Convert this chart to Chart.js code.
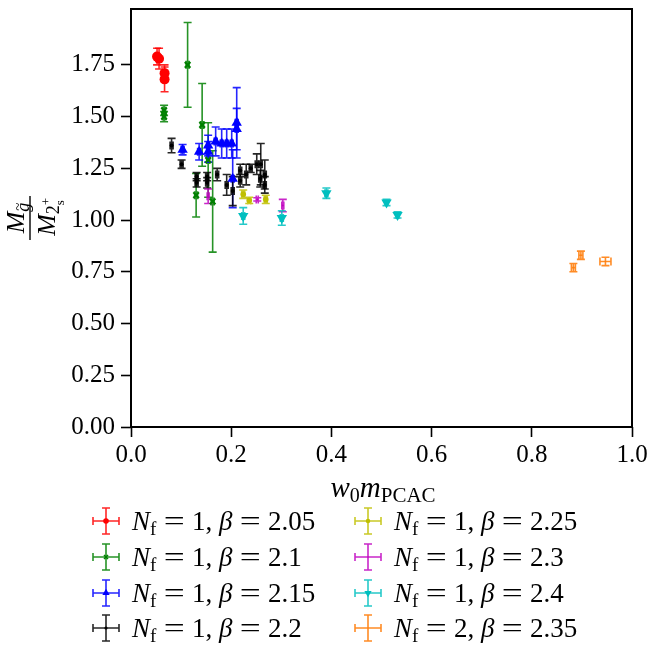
<!DOCTYPE html>
<html lang="en">
<head>
<meta charset="utf-8">
<title>Glueball mass ratio</title>
<script src="https://cdn.jsdelivr.net/npm/chart.js@4.4.0/dist/chart.umd.min.js"></script>
<style>
  body { margin: 0; background: #fff; }
</style>
</head>
<body>
<canvas id="chart" width="652" height="646"></canvas>
<script>

const FONT = '"Liberation Serif", "DejaVu Serif", serif';

// axis ticks
const xTicks = [0, 0.2, 0.4, 0.6, 0.8, 1.0];
const yTicks = [0, 0.25, 0.5, 0.75, 1.0, 1.25, 1.5, 1.75];

// legend labels: N_f and beta for each ensemble set
const nfValues = [1, 1, 1, 1, 1, 1, 1, 2];
const betaValues = ['2.05', '2.1', '2.15', '2.2', '2.25', '2.3', '2.4', '2.35'];

// Nf = 1, beta = 2.05
const x205  = [0.052, 0.056, 0.067, 0.067];
const y205  = [1.79, 1.78, 1.71, 1.68];
const dx205 = [0.003, 0.003, 0.003, 0.003];
const dy205 = [0.04, 0.05, 0.04, 0.06];

// Nf = 1, beta = 2.1
const x210  = [0.066, 0.066, 0.113, 0.130, 0.142, 0.154, 0.163];
const y210  = [1.53, 1.50, 1.75, 1.12, 1.46, 1.29, 1.09];
const dx210 = [0.003, 0.003, 0.003, 0.003, 0.003, 0.003, 0.003];
const dy210 = [0.025, 0.025, 0.205, 0.105, 0.20, 0.18, 0.245];

// Nf = 1, beta = 2.15
const x215  = [0.103, 0.136, 0.154, 0.154, 0.169, 0.181, 0.191, 0.201, 0.211, 0.211, 0.203];
const y215  = [1.34, 1.33, 1.36, 1.33, 1.38, 1.37, 1.37, 1.37, 1.47, 1.44, 1.20];
const dx215 = [0.003, 0.003, 0.003, 0.003, 0.003, 0.003, 0.003, 0.003, 0.003, 0.003, 0.003];
const dy215 = [0.025, 0.04, 0.05, 0.05, 0.07, 0.07, 0.07, 0.07, 0.17, 0.10, 0.14];

// Nf = 1, beta = 2.2
const x220  = [0.081, 0.101, 0.131, 0.131, 0.152, 0.152, 0.172, 0.191, 0.203, 0.218, 0.218, 0.230, 0.239, 0.251, 0.259, 0.258, 0.267, 0.267];
const y220  = [1.36, 1.27, 1.21, 1.18, 1.21, 1.18, 1.22, 1.17, 1.14, 1.24, 1.19, 1.22, 1.25, 1.27, 1.27, 1.20, 1.22, 1.17];
const dx220 = [0.003, 0.003, 0.003, 0.003, 0.003, 0.003, 0.003, 0.003, 0.003, 0.003, 0.003, 0.003, 0.003, 0.003, 0.003, 0.003, 0.003, 0.003];
const dy220 = [0.035, 0.02, 0.02, 0.02, 0.02, 0.025, 0.03, 0.05, 0.07, 0.03, 0.03, 0.05, 0.02, 0.05, 0.10, 0.04, 0.07, 0.04];

// Nf = 1, beta = 2.25
const x225  = [0.224, 0.236, 0.269];
const y225  = [1.125, 1.095, 1.10];
const dx225 = [0.003, 0.003, 0.003];
const dy225 = [0.02, 0.015, 0.02];

// Nf = 1, beta = 2.3
const x230  = [0.154, 0.252, 0.303];
const y230  = [1.115, 1.10, 1.07];
const dx230 = [0.002, 0.002, 0.002];
const dy230 = [0.035, 0.008, 0.03];

// Nf = 1, beta = 2.4
const x240  = [0.224, 0.301, 0.390, 0.510, 0.532];
const y240  = [1.02, 1.01, 1.13, 1.085, 1.025];
const dx240 = [0.003, 0.003, 0.003, 0.003, 0.003];
const dy240 = [0.04, 0.035, 0.025, 0.015, 0.015];

// Nf = 2, beta = 2.35
const x235  = [0.883, 0.898, 0.947];
const y235  = [0.77, 0.83, 0.80];
const dx235 = [0.004, 0.004, 0.011];
const dy235 = [0.02, 0.02, 0.02];

const series = [
    { x: x205, y: y205, dx: dx205, dy: dy205, color: '#ff0000', bar: 'rgba(255,0,0,0.85)',     style: 'circle',   radius: 5,   rotation: 0 },
    { x: x210, y: y210, dx: dx210, dy: dy210, color: '#008000', bar: 'rgba(0,128,0,0.85)',     style: 'crossRot', radius: 4,   rotation: 0 },
    { x: x215, y: y215, dx: dx215, dy: dy215, color: '#0000ff', bar: 'rgba(0,0,255,0.85)',     style: 'triangle', radius: 6,   rotation: 0 },
    { x: x220, y: y220, dx: dx220, dy: dy220, color: '#000000', bar: 'rgba(0,0,0,0.85)',       style: 'circle',   radius: 2,   rotation: 0 },
    { x: x225, y: y225, dx: dx225, dy: dy225, color: '#bfbf00', bar: 'rgba(191,191,0,0.85)',   style: 'circle',   radius: 2.8, rotation: 0 },
    { x: x230, y: y230, dx: dx230, dy: dy230, color: '#bf00bf', bar: 'rgba(191,0,191,0.85)',   style: 'circle',   radius: 1,   rotation: 0 },
    { x: x240, y: y240, dx: dx240, dy: dy240, color: '#00bfbf', bar: 'rgba(0,191,191,0.85)',   style: 'triangle', radius: 6,   rotation: 180 },
    { x: x235, y: y235, dx: dx235, dy: dy235, color: '#ff7f0e', bar: 'rgba(255,127,14,0.9)',   style: 'circle',   radius: 0.8, rotation: 0 }
];

const CAP = 4;

// draws x/y error bars with caps underneath the markers
const errorBars = {
    id: 'errorBars',
    beforeDatasetsDraw (chart) {
        const { ctx, chartArea: a, scales: { x: sx, y: sy } } = chart;
        ctx.save();
        ctx.beginPath();
        ctx.rect(a.left, a.top, a.right - a.left, a.bottom - a.top);
        ctx.clip();
        ctx.lineWidth = 1.6;
        chart.data.datasets.forEach(ds => {
            ctx.strokeStyle = ds.barColor;
            ds.data.forEach((p, i) => {
                const px = sx.getPixelForValue(p.x);
                const py = sy.getPixelForValue(p.y);
                const x0 = sx.getPixelForValue(p.x - ds.errX[i]);
                const x1 = sx.getPixelForValue(p.x + ds.errX[i]);
                const y0 = sy.getPixelForValue(p.y - ds.errY[i]);
                const y1 = sy.getPixelForValue(p.y + ds.errY[i]);
                ctx.beginPath();
                ctx.moveTo(px, y0); ctx.lineTo(px, y1);
                ctx.moveTo(px - CAP, y0); ctx.lineTo(px + CAP, y0);
                ctx.moveTo(px - CAP, y1); ctx.lineTo(px + CAP, y1);
                ctx.moveTo(x0, py); ctx.lineTo(x1, py);
                ctx.moveTo(x0, py - CAP); ctx.lineTo(x0, py + CAP);
                ctx.moveTo(x1, py - CAP); ctx.lineTo(x1, py + CAP);
                ctx.stroke();
            });
        });
        ctx.restore();
    }
};

// text made of runs: { t, size, it, dy, gap, stack, sx }
function setFont (ctx, r) {
    ctx.font = (r.it ? 'italic ' : '') + r.size + 'px ' + FONT;
}

function runWidth (ctx, r) {
    setFont(ctx, r);
    return ctx.measureText(r.t).width * (r.sx || 1);
}

function runsWidth (ctx, runs) {
    let w = 0;
    for (const r of runs) {
        if (r.stack) continue;
        if (r.gap) { w += r.gap; continue; }
        w += runWidth(ctx, r);
    }
    return w;
}

function drawRuns (ctx, runs, x, y) {
    let cx = x;
    let last = x;
    const pos = [];
    for (const r of runs) {
        if (r.gap) { cx += r.gap; continue; }
        const startX = r.stack ? last : cx;
        const w = runWidth(ctx, r);
        ctx.save();
        ctx.translate(startX, y + (r.dy || 0));
        ctx.scale(r.sx || 1, 1);
        ctx.fillText(r.t, 0, 0);
        ctx.restore();
        pos.push(startX);
        last = startX;
        if (!r.stack) cx += w;
    }
    return pos;
}

// "=" widened, with math spacing around it
function eqRuns (size) {
    return [{ gap: size * 0.27 }, { t: '=', size, sx: 1.38 }, { gap: size * 0.27 }];
}

// frame, axis titles and legend
const decorations = {
    id: 'decorations',
    afterDraw (chart) {
        const { ctx, chartArea: a } = chart;
        ctx.save();
        ctx.strokeStyle = '#000';
        ctx.lineWidth = 2;
        ctx.strokeRect(a.left, a.top, a.right - a.left, a.bottom - a.top);

        ctx.fillStyle = '#000';
        ctx.textAlign = 'left';
        ctx.textBaseline = 'alphabetic';

        // x title: w_0 m_PCAC
        const xTitle = [
            { t: 'w', size: 29, it: true }, { t: '0', size: 20, dy: 5 },
            { t: 'm', size: 29, it: true }, { t: 'PCAC', size: 21, dy: 5 }
        ];
        const xw = runsWidth(ctx, xTitle);
        drawRuns(ctx, xTitle, 383 - xw / 2, 497);

        // y title: M_g~ / M_{2_s^+}
        ctx.save();
        ctx.translate(30, 218);
        ctx.rotate(-Math.PI / 2);
        ctx.lineWidth = 1.4;
        ctx.beginPath();
        ctx.moveTo(-22, 0); ctx.lineTo(22, 0);
        ctx.stroke();
        const num = [{ t: 'M', size: 26, it: true }, { t: 'g', size: 18, it: true, dy: 5 }];
        const nw = runsWidth(ctx, num);
        const np = drawRuns(ctx, num, -nw / 2, -6);
        ctx.font = '15px ' + FONT;
        ctx.textAlign = 'center';
        ctx.fillText('~', np[1] + 5, -7);
        ctx.textAlign = 'left';
        const den = [
            { t: 'M', size: 26, it: true }, { t: '2', size: 18, dy: 4 },
            { t: 's', size: 13, dy: 9 }, { t: '+', size: 13, dy: -5, stack: true }
        ];
        const dw = runsWidth(ctx, den);
        drawRuns(ctx, den, -dw / 2, 25);
        ctx.restore();

        // legend, two columns of four
        const rowY = [521, 557, 593, 628];
        const colX = [106, 368];
        series.forEach((s, i) => {
            const cx = colX[Math.floor(i / 4)];
            const cy = rowY[i % 4];
            const h = 13;
            ctx.strokeStyle = s.bar;
            ctx.lineWidth = 1.6;
            ctx.beginPath();
            ctx.moveTo(cx - h, cy); ctx.lineTo(cx + h, cy);
            ctx.moveTo(cx, cy - h); ctx.lineTo(cx, cy + h);
            ctx.moveTo(cx - h, cy - CAP); ctx.lineTo(cx - h, cy + CAP);
            ctx.moveTo(cx + h, cy - CAP); ctx.lineTo(cx + h, cy + CAP);
            ctx.moveTo(cx - CAP, cy - h); ctx.lineTo(cx + CAP, cy - h);
            ctx.moveTo(cx - CAP, cy + h); ctx.lineTo(cx + CAP, cy + h);
            ctx.stroke();
            ctx.fillStyle = s.color;
            ctx.strokeStyle = s.color;
            Chart.helpers.drawPoint(ctx, {
                pointStyle: s.style,
                radius: s.style === 'circle' ? Math.min(s.radius, 3.5) * 0.8 : s.radius * 0.7,
                rotation: s.rotation,
                borderWidth: s.style === 'crossRot' ? 2 : 0
            }, cx, cy);

            ctx.fillStyle = '#000';
            const fs = 27;
            const label = [
                { t: 'N', size: fs, it: true }, { t: 'f', size: 19, dy: 5 },
                ...eqRuns(fs),
                { t: nfValues[i] + ',', size: fs }, { gap: fs * 0.25 },
                { t: 'β', size: fs, it: true },
                ...eqRuns(fs),
                { t: betaValues[i], size: fs }
            ];
            drawRuns(ctx, label, cx + 26, cy + 9);
        });
        ctx.restore();
    }
};

const tickGrid = { display: true, drawOnChartArea: false, drawTicks: true, tickLength: 10, tickWidth: 1.6, tickColor: '#000' };

new Chart(document.getElementById('chart'), {
    type: 'scatter',
    data: {
        datasets: series.map((s, i) => ({
            label: 'Nf=' + nfValues[i] + ', beta=' + betaValues[i],
            data: s.x.map((v, j) => ({ x: v, y: s.y[j] })),
            errX: s.dx,
            errY: s.dy,
            barColor: s.bar,
            pointStyle: s.style,
            pointRadius: s.radius,
            pointHoverRadius: s.radius,
            pointRotation: s.rotation,
            backgroundColor: s.color,
            borderColor: s.color,
            borderWidth: s.style === 'crossRot' ? 2 : 0
        }))
    },
    options: {
        responsive: false,
        animation: false,
        layout: { padding: { top: 9, right: 20, bottom: 150, left: 0 } },
        plugins: {
            legend: { display: false },
            tooltip: { enabled: false }
        },
        scales: {
            x: {
                type: 'linear',
                min: 0,
                max: 1,
                afterBuildTicks: scale => { scale.ticks = xTicks.map(v => ({ value: v })); },
                afterFit: scale => {
                    scale.height = 69;
                    scale.paddingLeft = 0;
                    scale.paddingRight = 0;
                },
                ticks: {
                    callback: v => v.toFixed(1),
                    color: '#000',
                    font: { family: FONT, size: 25 },
                    padding: 3,
                    maxRotation: 0
                },
                grid: tickGrid,
                border: { display: false }
            },
            y: {
                type: 'linear',
                min: 0,
                max: 2.02,
                afterBuildTicks: scale => { scale.ticks = yTicks.map(v => ({ value: v })); },
                afterFit: scale => {
                    scale.width = 131;
                    scale.paddingTop = 0;
                    scale.paddingBottom = 0;
                },
                ticks: {
                    callback: v => v.toFixed(2),
                    color: '#000',
                    font: { family: FONT, size: 25 },
                    padding: 6
                },
                grid: tickGrid,
                border: { display: false }
            }
        }
    },
    plugins: [errorBars, decorations]
});

</script>
</body>
</html>
